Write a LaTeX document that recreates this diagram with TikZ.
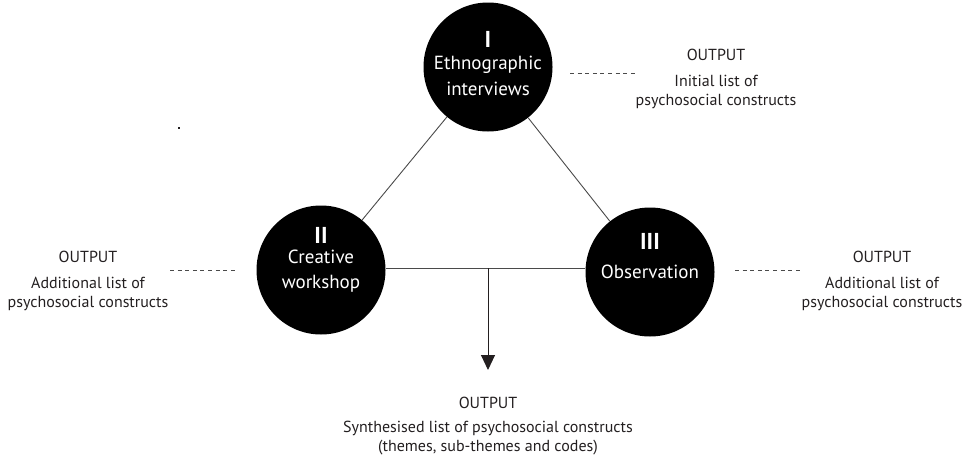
\documentclass[tikz,border=0pt]{standalone}
\usepackage{fontspec}
\setmainfont{PT Sans}
\usetikzlibrary{arrows.meta}
\definecolor{ink}{HTML}{231F20}
\definecolor{linegray}{HTML}{4A4A4A}
\begin{document}
\begin{tikzpicture}[x=1pt,y=-1pt,
  stage/.style={circle,fill=black,minimum size=129pt,inner sep=0pt},
  numtxt/.style={text=white,font=\fontsize{23}{23}\selectfont\bfseries},
  intxt/.style={text=white,font=\fontsize{19}{25.5}\selectfont,align=center},
  outhead/.style={text=ink,font=\fontsize{16}{18}\selectfont},
  outtxt/.style={text=ink,font=\fontsize{16}{19}\selectfont,align=center},
  conn/.style={draw=linegray,line width=0.9pt},
  dashconn/.style={draw=linegray,line width=0.9pt,dash pattern=on 4pt off 3.6pt}]
\useasboundingbox (0,0) rectangle (971,455);
% circles
\node[stage] (I) at (488,67) {};
\node[stage] (II) at (321,270) {};
\node[stage] (III) at (650,272) {};
% connectors
\draw[conn] (I) -- (II);
\draw[conn] (I) -- (III);
\draw[conn] (II.east |- 0,268) -- (III.west |- 0,268);
\coordinate (m) at (488,268);
\coordinate (tip) at (488,370);
\draw[draw=ink,line width=1pt,-{Triangle[width=14pt,length=15pt]}] (m) -- (tip);
% circle texts
\node[numtxt] (nI) at (488,39) {I};
\node[intxt] (tI) at (488,76) {Ethnographic\\interviews};
\node[numtxt] (nII) at (321,235) {II};
\node[intxt] (tII) at (321,271) {Creative\\workshop};
\node[numtxt] (nIII) at (650,241) {III};
\node[intxt] (tIII) at (650,272) {Observation};
% outputs
\node[outhead] (oIh) at (716,55) {OUTPUT};
\node[outtxt] (oIt) at (716,92) {Initial list of\\psychosocial constructs};
\node[outhead] (oIIh) at (88,257) {OUTPUT};
\node[outtxt] (oIIt) at (88,294) {Additional list of\\psychosocial constructs};
\node[outhead] (oIIIh) at (882,257) {OUTPUT};
\node[outtxt] (oIIIt) at (882,294) {Additional list of\\psychosocial constructs};
\node[outhead] (oh) at (488,403) {OUTPUT};
\node[outtxt] (ot) at (488,438) {Synthesised list of psychosocial constructs\\(themes, sub-themes and codes)};
% dashed connectors
\coordinate (dIa) at (570,73); \coordinate (dIb) at (638,73);
\draw[dashconn] (dIa) -- (dIb);
\coordinate (dIIa) at (170,270); \coordinate (dIIb) at (238,270);
\draw[dashconn] (dIIa) -- (dIIb);
\coordinate (dIIIa) at (735,270); \coordinate (dIIIb) at (803,270);
\draw[dashconn] (dIIIa) -- (dIIIb);
% stray dot
\fill[ink] (178,127) rectangle (180,129);
\end{tikzpicture}
\end{document}
